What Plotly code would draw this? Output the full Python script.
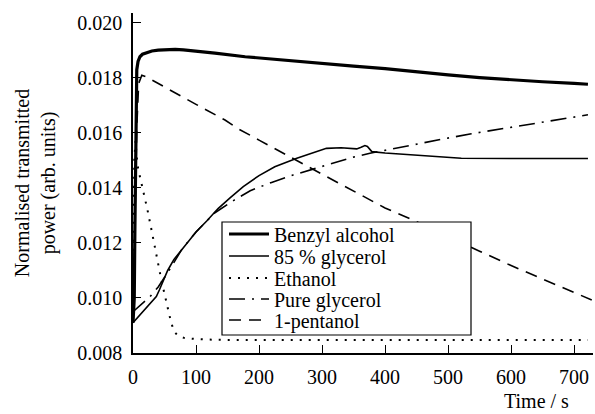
import plotly.graph_objects as go

# ---- data ----
benzyl_t = [0, 2, 3, 4, 5, 6, 8, 11, 15, 22, 30, 40, 55, 67, 80, 100, 130, 178, 220, 257, 300, 350, 400, 450, 500, 550, 600, 650, 700, 722]
benzyl_v = [0.0091, 0.0100, 0.0125, 0.0155, 0.0175, 0.0183, 0.01860, 0.01877, 0.01886, 0.01893, 0.01898, 0.01901, 0.01904, 0.01904, 0.01902, 0.01898, 0.01890, 0.01877, 0.01868, 0.01862, 0.01852, 0.01843, 0.01834, 0.01822, 0.01811, 0.01801, 0.01793, 0.01786, 0.01780, 0.01777]

gly85_t = [0, 10, 20, 30, 37, 42, 48, 55, 65, 77, 90, 100, 117, 135, 154, 175, 200, 225, 260, 285, 307, 330, 355, 362, 368, 372, 379, 400, 440, 480, 521, 600, 722]
gly85_v = [0.0091, 0.00935, 0.00960, 0.00985, 0.01005, 0.01030, 0.01065, 0.01100, 0.01140, 0.01175, 0.01215, 0.01240, 0.01280, 0.01325, 0.01364, 0.01405, 0.01445, 0.01477, 0.01508, 0.01527, 0.01544, 0.01546, 0.01542, 0.01548, 0.01554, 0.01551, 0.01532, 0.01527, 0.01520, 0.01513, 0.01508, 0.01507, 0.01507]

ethanol_t = [0, 2, 4, 7, 11, 15, 20, 23, 30, 37, 40, 44, 48, 52, 56, 60, 65, 72, 81, 98, 130, 200, 300, 400, 500, 600, 722]
ethanol_v = [0.0091, 0.0150, 0.0157, 0.01484, 0.01441, 0.01401, 0.0136, 0.0132, 0.0124, 0.01156, 0.01116, 0.01077, 0.01035, 0.01000, 0.00955, 0.00916, 0.00878, 0.00862, 0.00855, 0.00851, 0.00848, 0.00847, 0.00847, 0.00847, 0.00847, 0.00847, 0.00847]

puregly_t = [0, 3, 15, 27, 40, 50, 60, 77, 100, 130, 160, 186, 220, 254, 290, 323, 350, 376, 410, 440, 490, 537, 600, 660, 722]
puregly_v = [0.0095, 0.00956, 0.00980, 0.01005, 0.01040, 0.01075, 0.01110, 0.01175, 0.01240, 0.01310, 0.01355, 0.01390, 0.01420, 0.01447, 0.01472, 0.01496, 0.01512, 0.01526, 0.01542, 0.01556, 0.01577, 0.01597, 0.01620, 0.01643, 0.01666]

pentanol_t = [0, 3, 6, 9, 14, 20, 50, 100, 146, 167, 200, 257, 300, 371, 400, 437, 500, 550, 600, 650, 700, 728]
pentanol_v = [0.0091, 0.0125, 0.0162, 0.0178, 0.0181, 0.01805, 0.01766, 0.01704, 0.01647, 0.01615, 0.01574, 0.01502, 0.01450, 0.01363, 0.01327, 0.01291, 0.01222, 0.01170, 0.01118, 0.01068, 0.01020, 0.00993]

series_names = ["Benzyl alcohol", "85 % glycerol", "Ethanol", "Pure glycerol", "1-pentanol"]
x_ticks = [0, 100, 200, 300, 400, 500, 600, 700]
y_ticks = [0.008, 0.010, 0.012, 0.014, 0.016, 0.018, 0.020]

FONT = "Times New Roman, Liberation Serif, serif"

# plot area in pixels: left 133, right 593, top 13, bottom 353
W, H = 595, 414
L, R, T, B = 133, 2, 13, 61
PW, PH = W - L - R, H - T - B


def py(px_y):
    return (H - B - px_y) / PH


def px(px_x):
    return (px_x - L) / PW


styles = [
    dict(color="black", width=3.2),
    dict(color="black", width=1.6),
    dict(color="black", width=2, dash="2px,7px"),
    dict(color="black", width=1.6, dash="16px,7px,2px,7px"),
    dict(color="black", width=1.6, dash="12px,8px"),
]
xs = [benzyl_t, gly85_t, ethanol_t, puregly_t, pentanol_t]
ys = [benzyl_v, gly85_v, ethanol_v, puregly_v, pentanol_v]
legend_ids = ["legend", "legend2", "legend3", "legend4", "legend5"]
legend_centres = [234, 256, 278, 299, 320]

fig = go.Figure()
for name, x, y, st, lid in zip(series_names, xs, ys, styles, legend_ids):
    fig.add_trace(go.Scatter(x=x, y=y, mode="lines", name=name, line=st, legend=lid))

legend_cfg = {}
for lid, cy in zip(legend_ids, legend_centres):
    legend_cfg[lid] = dict(x=px(224), y=py(cy), xanchor="left", yanchor="middle",
                           bgcolor="rgba(0,0,0,0)", borderwidth=0,
                           font=dict(family=FONT, size=20), itemwidth=40)

fig.update_layout(
    width=W, height=H,
    margin=dict(l=L, r=R, t=T, b=B, autoexpand=False),
    paper_bgcolor="white", plot_bgcolor="white",
    font=dict(family=FONT, size=20, color="black"),
    showlegend=True,
    **legend_cfg,
    shapes=[dict(type="rect", xref="paper", yref="paper", x0=px(222), x1=px(471),
                 y0=py(335), y1=py(222), fillcolor="white",
                 line=dict(color="black", width=1.2), layer="above")],
    xaxis=dict(range=[0, 730], tickvals=x_ticks, ticks="inside", ticklen=8,
               tickcolor="black", showline=True, linecolor="black", linewidth=1.5,
               showgrid=False, zeroline=False, automargin=False,
               ticklabelstandoff=5,
               tickfont=dict(family=FONT, size=20)),
    yaxis=dict(range=[0.008, 0.02036], tickvals=y_ticks, tickformat=".3f",
               ticks="inside", ticklen=8, tickcolor="black", showline=True,
               linecolor="black", linewidth=1.5, showgrid=False, zeroline=False,
               automargin=False, ticklabelstandoff=5,
               tickfont=dict(family=FONT, size=20),
               title=dict(text="Normalised transmitted<br>power (arb. units)",
                          font=dict(family=FONT, size=20), standoff=16)),
    annotations=[dict(text="Time / s", xref="paper", yref="paper",
                      x=px(571), y=py(401), xanchor="right", yanchor="middle",
                      showarrow=False, font=dict(family=FONT, size=20))],
)

fig.write_html("out.html", config={"displayModeBar": False},
               post_script="document.body.style.margin='0';")
